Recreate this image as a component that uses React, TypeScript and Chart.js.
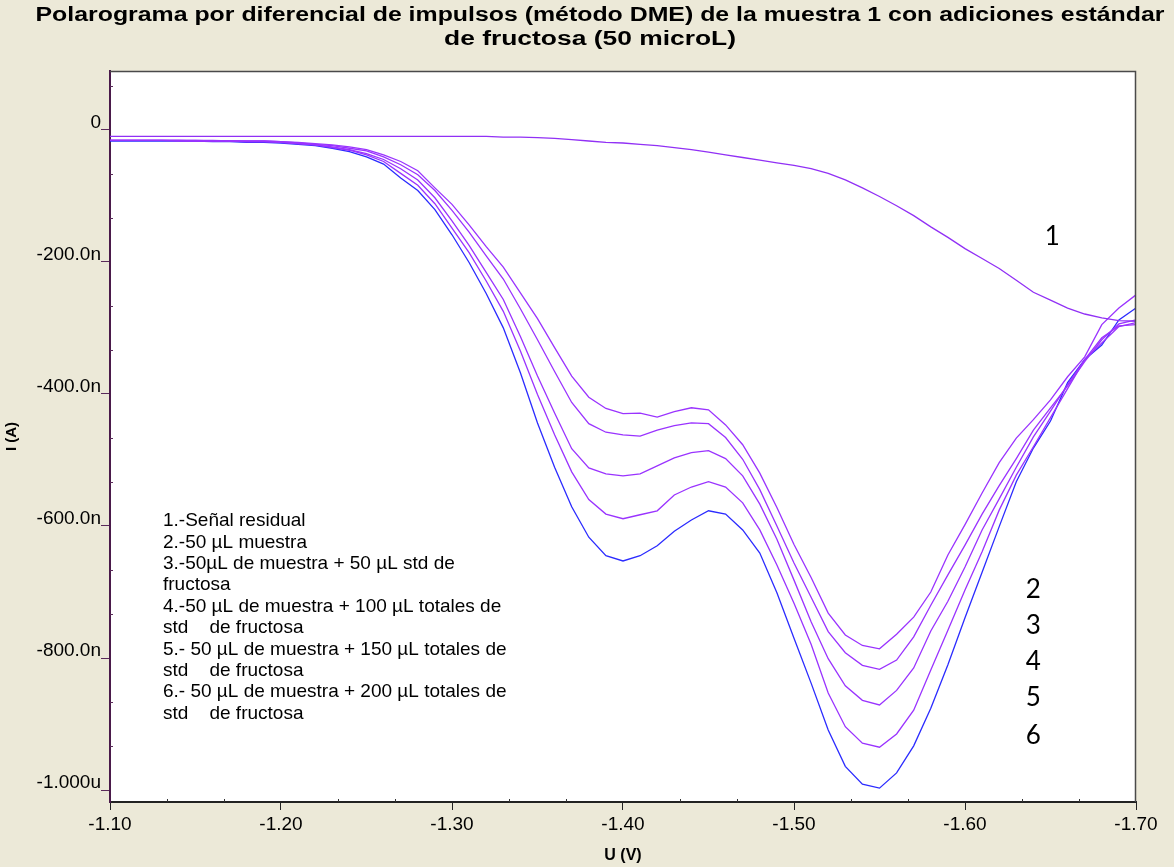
import React, { useEffect, useRef } from 'react';
import { Chart, registerables } from 'chart.js';

Chart.register(...registerables);

const FONT = "'Liberation Sans', Arial, sans-serif";

// Potential (V)
const voltages = [
  -1.10, -1.11, -1.12, -1.13, -1.14, -1.15, -1.16, -1.17, -1.18, -1.19,
  -1.20, -1.21, -1.22, -1.23, -1.24, -1.25, -1.26, -1.27, -1.28, -1.29,
  -1.30, -1.31, -1.32, -1.33, -1.34, -1.35, -1.36, -1.37, -1.38, -1.39,
  -1.40, -1.41, -1.42, -1.43, -1.44, -1.45, -1.46, -1.47, -1.48, -1.49,
  -1.50, -1.51, -1.52, -1.53, -1.54, -1.55, -1.56, -1.57, -1.58, -1.59,
  -1.60, -1.61, -1.62, -1.63, -1.64, -1.65, -1.66, -1.67, -1.68, -1.69,
  -1.70,
];

// Current (nA)
const curve1 = [
  -10, -10, -10, -10, -10, -10, -10, -10, -10, -10,
  -10, -10, -10, -10, -10, -10, -10, -10, -10, -10,
  -10, -10, -10, -11, -11, -12, -13, -15, -17, -19,
  -20, -22, -24, -27, -30, -34, -38, -42, -46, -50,
  -54, -59, -66, -76, -88, -101, -115, -130, -147, -163,
  -180, -195, -210, -228, -246, -258, -270, -279, -285, -289,
  -290,
];
const curve2 = [
  -16, -16, -16, -16, -16, -16, -16, -17, -17, -17,
  -18, -19, -21, -23, -26, -30, -38, -48, -62, -88,
  -113, -144, -177, -208, -247, -286, -330, -373, -405, -422,
  -430, -429, -435, -427, -421, -424, -447, -477, -520, -572,
  -628, -678, -732, -765, -781, -786, -764, -738, -700, -644,
  -598, -550, -504, -467, -439, -409, -374, -344, -295, -270,
  -250,
];
const curve3 = [
  -16, -16, -16, -16, -16, -16, -17, -17, -17, -17,
  -18, -20, -22, -24, -28, -32, -41, -53, -68, -92,
  -122, -155, -191, -226, -271, -318, -366, -413, -445, -458,
  -462, -464, -455, -448, -444, -445, -466, -499, -545, -600,
  -656, -708, -760, -792, -811, -817, -803, -768, -720, -674,
  -629, -582, -539, -498, -455, -421, -388, -351, -318, -294,
  -288,
];
const curve4 = [
  -16, -16, -16, -16, -16, -17, -17, -17, -18, -18,
  -19, -21, -23, -26, -30, -36, -45, -59, -76, -103,
  -138, -175, -216, -257, -313, -373, -429, -483, -512, -521,
  -524, -521, -509, -497, -489, -486, -498, -524, -567, -620,
  -682, -745, -801, -842, -864, -871, -849, -815, -759, -714,
  -662, -606, -559, -511, -465, -426, -386, -348, -323, -298,
  -292,
];
const curve5 = [
  -16, -16, -16, -16, -17, -17, -17, -17, -18, -18,
  -19, -21, -23, -27, -31, -38, -48, -66, -84, -112,
  -149, -186, -229, -275, -335, -401, -462, -518, -560, -582,
  -589, -583, -577, -553, -541, -533, -541, -565, -606, -659,
  -717, -779, -853, -904, -929, -935, -915, -879, -818, -758,
  -697, -639, -576, -523, -480, -436, -392, -348, -315, -297,
  -295,
];
const curve6 = [
  -17, -17, -17, -17, -17, -17, -18, -18, -19, -19,
  -20, -22, -24, -28, -33, -41, -52, -73, -92, -121,
  -159, -201, -248, -300, -368, -444, -511, -571, -617, -645,
  -653, -645, -630, -608, -591, -577, -582, -606, -641, -701,
  -770, -838, -909, -964, -991, -997, -974, -933, -876, -810,
  -739, -670, -601, -533, -482, -441, -383, -348, -326, -288,
  -270,
];

const seriesNames = ['1', '2', '3', '4', '5', '6'];
const seriesValues = [curve1, curve2, curve3, curve4, curve5, curve6];
const seriesColors = ['#9130f5', '#9a33ff', '#9a33ff', '#9a33ff', '#9a33ff', '#2b2bff'];

const xTickValues = [-1.1, -1.2, -1.3, -1.4, -1.5, -1.6, -1.7];
const yTickValues = [0, -200, -400, -600, -800, -1000];
const yTickLabels = ['0', '-200.0n', '-400.0n', '-600.0n', '-800.0n', '-1.000u'];

const titleLines = [
  'Polarograma por diferencial de impulsos (método DME) de la muestra 1 con adiciones estándar',
  'de fructosa (50 microL)',
];
// target widths / centres of the stretched title lines (px)
const titleWidths = [1129, 292];
const titleCentersX = [600, 590];
const titleCentersY = [15, 39];

const legendLines = [
  '1.-Señal residual',
  '2.-50 µL muestra',
  '3.-50µL de muestra + 50 µL std de',
  'fructosa',
  '4.-50 µL de muestra + 100 µL totales de',
  'std    de fructosa',
  '5.- 50 µL de muestra + 150 µL totales de',
  'std    de fructosa',
  '6.- 50 µL de muestra + 200 µL totales de',
  'std    de fructosa',
];

// curve number annotations (V, nA)
const numberLabels = ['1', '2', '3', '4', '5', '6'];
const numberV = [-1.651, -1.640, -1.640, -1.640, -1.640, -1.640];
const numberI = [-162, -697, -751, -806, -860, -917];

const decorPlugin = {
  id: 'decor',
  beforeDraw(chart: any) {
    const { ctx, chartArea: a, width, height } = chart;
    ctx.save();
    ctx.fillStyle = '#ECE9D8';
    ctx.fillRect(0, 0, width, height);
    ctx.fillStyle = '#ffffff';
    ctx.fillRect(a.left, a.top, a.right - a.left, a.bottom - a.top);
    ctx.restore();
  },
  afterDraw(chart: any) {
    const { ctx, chartArea: a, scales } = chart;
    const xs = scales.x;
    const ys = scales.y;
    ctx.save();

    // title (horizontally stretched like the original export)
    ctx.fillStyle = '#000';
    ctx.font = `bold 20px ${FONT}`;
    ctx.textAlign = 'center';
    ctx.textBaseline = 'middle';
    titleLines.forEach((t, i) => {
      const w = ctx.measureText(t).width;
      const sx = titleWidths[i] / w;
      ctx.save();
      ctx.translate(titleCentersX[i], titleCentersY[i]);
      ctx.scale(sx, 1);
      ctx.fillText(t, 0, 0);
      ctx.restore();
    });

    // top and right frame
    ctx.strokeStyle = '#4a4a4a';
    ctx.lineWidth = 1.5;
    ctx.beginPath();
    ctx.moveTo(a.left, a.top + 0.5);
    ctx.lineTo(a.right - 0.5, a.top + 0.5);
    ctx.lineTo(a.right - 0.5, a.bottom);
    ctx.stroke();

    // minor ticks
    ctx.lineWidth = 1;
    ctx.strokeStyle = '#333';
    for (let i = 0; i < 6; i++) {
      for (let j = 1; j < 3; j++) {
        const v = xTickValues[i] - (j * 0.1) / 3;
        const px = Math.round(xs.getPixelForValue(v)) + 0.5;
        ctx.beginPath();
        ctx.moveTo(px, a.bottom);
        ctx.lineTo(px, a.bottom - 3);
        ctx.stroke();
      }
    }
    ctx.strokeStyle = '#5a2a5a';
    for (let i = 0; i < yTickValues.length; i++) {
      for (let j = 1; j < 3; j++) {
        const v = yTickValues[i] + (j * 200) / 3;
        if (v > ys.max) continue;
        const py = Math.round(ys.getPixelForValue(v)) + 0.5;
        ctx.beginPath();
        ctx.moveTo(a.left, py);
        ctx.lineTo(a.left + 3, py);
        ctx.stroke();
      }
    }

    // legend text block
    ctx.fillStyle = '#000';
    ctx.font = `19px ${FONT}`;
    ctx.textAlign = 'left';
    ctx.textBaseline = 'middle';
    legendLines.forEach((t, i) => {
      ctx.fillText(t, 163, 521 + i * 21.4);
    });

    // curve numbers
    ctx.font = `26px Lato, 'Open Sans', sans-serif`;
    ctx.textAlign = 'center';
    numberLabels.forEach((t, i) => {
      ctx.fillText(t, xs.getPixelForValue(numberV[i]), ys.getPixelForValue(numberI[i]));
    });
    ctx.restore();
  },
};

export default function App() {
  const ref = useRef<HTMLCanvasElement | null>(null);

  useEffect(() => {
    document.body.style.margin = '0';
    const canvas = ref.current;
    if (!canvas) return;
    const datasets = seriesValues.map((vals, s) => ({
      label: seriesNames[s],
      data: vals.map((y, i) => ({ x: voltages[i], y })),
      borderColor: seriesColors[s],
      backgroundColor: seriesColors[s],
      borderWidth: 1.3,
      pointRadius: 0,
      tension: 0,
      fill: false,
    }));
    const chart = new Chart(canvas, {
      type: 'line',
      data: { datasets },
      options: {
        animation: false,
        responsive: false,
        devicePixelRatio: 1,
        layout: { padding: { top: 71, right: 38, bottom: 0, left: 0 } },
        plugins: {
          legend: { display: false },
          tooltip: { enabled: false },
          title: { display: false },
        },
        scales: {
          x: {
            type: 'linear',
            min: -1.7,
            max: -1.1,
            reverse: true,
            afterBuildTicks: (s: any) => {
              s.ticks = xTickValues.map((v) => ({ value: v }));
            },
            afterFit: (s: any) => {
              s.height = 65;
            },
            ticks: {
              autoSkip: false,
              maxRotation: 0,
              color: '#000',
              padding: 3,
              font: { family: FONT, size: 19 },
              callback: (v: any) => Number(v).toFixed(2),
            },
            grid: {
              display: true,
              drawOnChartArea: false,
              drawTicks: true,
              tickLength: 8,
              color: '#222',
            },
            border: { display: true, color: '#222', width: 2 },
            title: {
              display: true,
              text: 'U (V)',
              color: '#000',
              font: { family: FONT, size: 16, weight: 'bold' },
              padding: { top: 0, bottom: 2 },
            },
          },
          y: {
            type: 'linear',
            min: -1018,
            max: 89,
            afterBuildTicks: (s: any) => {
              s.ticks = yTickValues.map((v) => ({ value: v }));
            },
            afterFit: (s: any) => {
              s.width = 110;
            },
            ticks: {
              autoSkip: false,
              color: '#000',
              padding: 0,
              labelOffset: -7,
              font: { family: FONT, size: 19 },
              callback: (v: any) => {
                const idx = yTickValues.indexOf(Number(v));
                return idx >= 0 ? yTickLabels[idx] : '';
              },
            },
            grid: {
              display: true,
              drawOnChartArea: false,
              drawTicks: true,
              tickLength: 9,
              color: '#5a2a5a',
            },
            border: { display: true, color: '#4a1a4a', width: 2 },
            title: {
              display: true,
              text: 'I (A)',
              color: '#000',
              font: { family: FONT, size: 15, weight: 'bold' },
              padding: { top: 3, bottom: 0 },
            },
          },
        },
      },
      plugins: [decorPlugin],
    } as any);
    return () => chart.destroy();
  }, []);

  return (
    <div style={{ width: 1174, height: 867 }}>
      <canvas ref={ref} width={1174} height={867} style={{ display: 'block' }} />
    </div>
  );
}
